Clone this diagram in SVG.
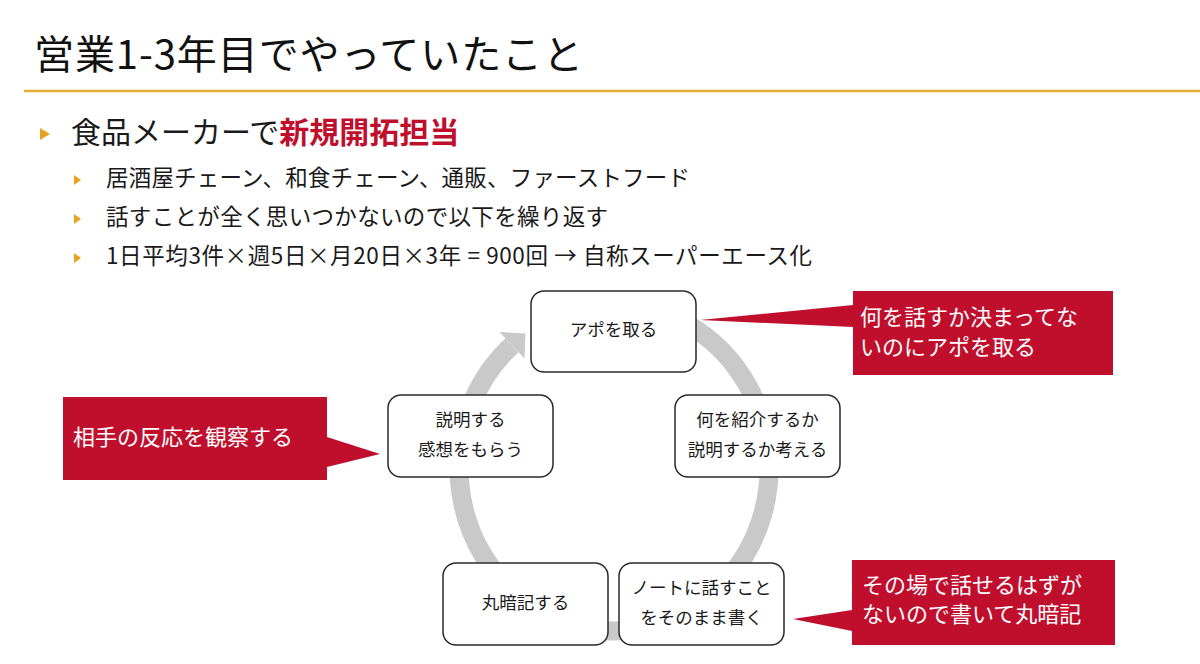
<svg xmlns="http://www.w3.org/2000/svg" width="1200" height="664" viewBox="0 0 1200 664">
<style>
text{font-family:"Noto Sans CJK JP","Noto Sans",sans-serif;}
.title{font-size:40px;fill:#111;}
.b1{font-size:30px;fill:#1a1a1a;}
.red{fill:#C00F2D;font-weight:bold;}
.b2{font-size:22.5px;fill:#1a1a1a;}
.bul{fill:#E8A21C;}
.box{fill:#fff;stroke:#2a2a2a;stroke-width:1.5;}
.bt{font-size:17.5px;fill:#1a1a1a;text-anchor:middle;}
.call{fill:#C00F2D;}
.ct{font-size:22px;fill:#fff;}
.ring{fill:none;stroke:#C9C9C9;stroke-width:19;}
</style>
<rect width="1200" height="664" fill="#fff"/>
<g id="header">
<text class="title" x="34" y="69" textLength="549" lengthAdjust="spacing">営業1-3年目でやっていたこと</text>
<line x1="24" y1="91" x2="1200" y2="91" stroke="#E4AC36" stroke-width="2.5"/>
</g>
<g id="bullets">
<polygon class="bul" points="40,128 50,134 40,140"/>
<text class="b1" x="71" y="143">食品メーカーで<tspan class="red">新規開拓担当</tspan></text>
<polygon class="bul" points="74,175 81,180 74,185"/>
<text class="b2" x="106" y="186" textLength="584" lengthAdjust="spacing">居酒屋チェーン、和食チェーン、通販、ファーストフード</text>
<polygon class="bul" points="74,214 81,219 74,224"/>
<text class="b2" x="106" y="225" textLength="502" lengthAdjust="spacing">話すことが全く思いつかないので以下を繰り返す</text>
<polygon class="bul" points="74,253 81,258 74,263"/>
<text class="b2" x="106" y="264" textLength="706" lengthAdjust="spacing">1日平均3件×週5日×月20日×3年 = 900回 → 自称スーパーエース化</text>
</g>
<g id="connectors">
<path class="ring" d="M512,345.3 A155,163 0 1 0 614,305"/>
<polygon fill="#C9C9C9" points="499.5,332 525.5,333.5 524.5,358.5"/>
</g>
<g id="node-appo">
<rect class="box" x="531" y="291" width="165" height="81" rx="13"/>
<text class="bt" x="613.5" y="336">アポを取る</text>
</g>
<g id="node-kangaeru">
<rect class="box" x="675" y="395" width="165" height="82" rx="13"/>
<text class="bt" x="757.5" y="426">何を紹介するか</text>
<text class="bt" x="757.5" y="456">説明するか考える</text>
</g>
<g id="node-note">
<rect class="box" x="619" y="563" width="165" height="82" rx="13"/>
<text class="bt" x="701.5" y="594">ノートに話すこと</text>
<text class="bt" x="701.5" y="624">をそのまま書く</text>
</g>
<g id="node-anki">
<rect class="box" x="443" y="563" width="165" height="82" rx="13"/>
<text class="bt" x="525.5" y="609">丸暗記する</text>
</g>
<g id="node-setsumei">
<rect class="box" x="388" y="395" width="165" height="82" rx="13"/>
<text class="bt" x="470.5" y="426">説明する</text>
<text class="bt" x="470.5" y="456">感想をもらう</text>
</g>
<g id="callout-appo">
<path class="call" d="M853,291 H1113 V375 H853 V327 L700,320 L853,305 Z"/>
<text class="ct" x="860" y="325">何を話すか決まってな</text>
<text class="ct" x="860" y="355">いのにアポを取る</text>
</g>
<g id="callout-kansatsu">
<path class="call" d="M63,397 H327 V437 L380,454 L327,467 V480 H63 Z"/>
<text class="ct" x="73" y="445">相手の反応を観察する</text>
</g>
<g id="callout-anki">
<path class="call" d="M852,560 H1115 V645 H852 V631 L793,619 L852,610 Z"/>
<text class="ct" x="862" y="593">その場で話せるはずが</text>
<text class="ct" x="862" y="622">ないので書いて丸暗記</text>
</g>
</svg>
